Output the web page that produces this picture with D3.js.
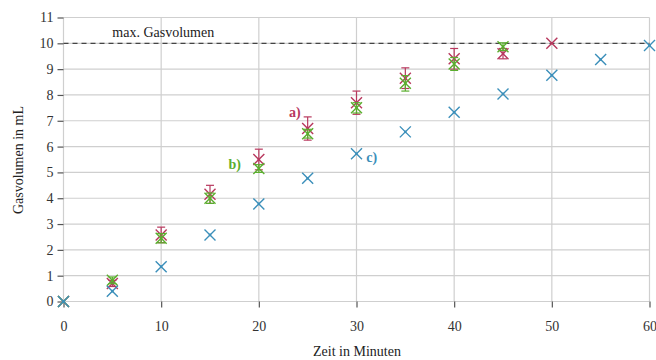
<!DOCTYPE html>
<html><head><meta charset="utf-8">
<script src="https://cdn.jsdelivr.net/npm/d3@7"></script>
<style>body{margin:0;background:#fff}svg{display:block}</style>
</head><body><svg id="c" width="656" height="360"></svg>
<script>
const times = [0,5,10,15,20,25,30,35,40,45,50,55,60];
const seriesA = [0,0.7,2.58,4.15,5.5,6.7,7.7,8.65,9.4,9.6,10.0];
const errA    = [0,0.12,0.3,0.35,0.4,0.45,0.45,0.4,0.4,0.2,0];
const seriesB = [0,0.82,2.45,4.0,5.15,6.5,7.5,8.45,9.2,9.87];
const errB    = [0,0.13,0.18,0.2,0.15,0.17,0.2,0.3,0.25,0.15];
const seriesC = [0,0.4,1.35,2.58,3.78,4.77,5.72,6.57,7.33,8.04,8.76,9.37,9.92];
const xTicks = [0,10,20,30,40,50,60];
const yTicks = [0,1,2,3,4,5,6,7,8,9,10,11];
const maxVol = 10;
const labels = [{t:"a)",x:23.1,y:7.15,s:"a"},{t:"b)",x:16.9,y:5.15,s:"b"},{t:"c)",x:31.0,y:5.4,s:"c"}];
const colors = {a:"#b8385e",b:"#5aae2e",c:"#3b8fba"};

const svg = d3.select("#c");
const font = "'Liberation Serif', 'DejaVu Serif', serif";
const x = d3.scaleLinear().domain([0,60]).range([63.5,649.5]);
const y = d3.scaleLinear().domain([0,11]).range([301.5,17.5]);

// grid
svg.append("g").selectAll("line").data(yTicks).join("line")
  .attr("x1",x(0)).attr("x2",x(60)).attr("y1",d=>y(d)).attr("y2",d=>y(d))
  .attr("stroke","#cfcfcf").attr("stroke-width",1.2);
svg.append("g").selectAll("line").data(xTicks).join("line")
  .attr("x1",d=>x(d)).attr("x2",d=>x(d)).attr("y1",y(0)).attr("y2",y(11))
  .attr("stroke","#cfcfcf").attr("stroke-width",1.2);

// axes
const ya = svg.append("g").attr("transform",`translate(${x(0)},0)`)
  .call(d3.axisLeft(y).tickValues(yTicks).tickSize(6).tickPadding(4));
const xa = svg.append("g").attr("transform",`translate(0,${y(0)})`)
  .call(d3.axisBottom(x).tickValues(xTicks).tickSize(6).tickPadding(14));
[ya,xa].forEach(a=>{
  a.select(".domain").remove();
  a.selectAll("line").attr("stroke","#555").attr("stroke-width",1.2);
  a.selectAll("text").attr("font-family",font).attr("font-size",14).attr("fill","#333");
});

// max line
svg.append("line").attr("x1",x(0)).attr("x2",x(60)).attr("y1",y(maxVol)).attr("y2",y(maxVol))
  .attr("stroke","#444").attr("stroke-width",1.3).attr("stroke-dasharray","5,4");
svg.append("text").attr("x",x(5)).attr("y",y(maxVol)-6).text("max. Gasvolumen")
  .attr("font-family",font).attr("font-size",14).attr("fill","#222");

// axis titles
svg.append("text").attr("x",357).attr("y",356).attr("text-anchor","middle")
  .text("Zeit in Minuten").attr("font-family",font).attr("font-size",14).attr("fill","#222");
svg.append("text").attr("transform","translate(23,160) rotate(-90)").attr("text-anchor","middle")
  .text("Gasvolumen in mL").attr("font-family",font).attr("font-size",14).attr("fill","#222");

const cross = "M-5.5,-5.5Q0,0 5.5,5.5M5.5,-5.5Q0,0 -5.5,5.5";
function drawSeries(vals, errs, col){
  const g = svg.append("g");
  vals.forEach((v,i)=>{
    const cx = x(times[i]), cy = y(v);
    if(errs && errs[i]>0){
      const e = errs[i];
      g.append("line").attr("x1",cx).attr("x2",cx).attr("y1",y(v-e)).attr("y2",y(v+e))
        .attr("stroke",col).attr("stroke-width",1.2);
      [v-e,v+e].forEach(b=>g.append("line").attr("x1",cx-4).attr("x2",cx+4)
        .attr("y1",y(b)).attr("y2",y(b)).attr("stroke",col).attr("stroke-width",1.2));
    }
    g.append("path").attr("d",cross).attr("transform",`translate(${cx},${cy})`)
      .attr("fill","none").attr("stroke",col).attr("stroke-width",1.4);
    g.append("circle").attr("cx",cx).attr("cy",cy).attr("r",1.3).attr("fill",col);
  });
}
drawSeries(seriesA, errA, colors.a);
drawSeries(seriesB, errB, colors.b);
drawSeries(seriesC, null, colors.c);

svg.append("g").selectAll("text").data(labels).join("text")
  .attr("x",d=>x(d.x)).attr("y",d=>y(d.y)).text(d=>d.t)
  .attr("font-family",font).attr("font-size",14).attr("font-weight","bold")
  .attr("fill",d=>colors[d.s]);
</script></body></html>
